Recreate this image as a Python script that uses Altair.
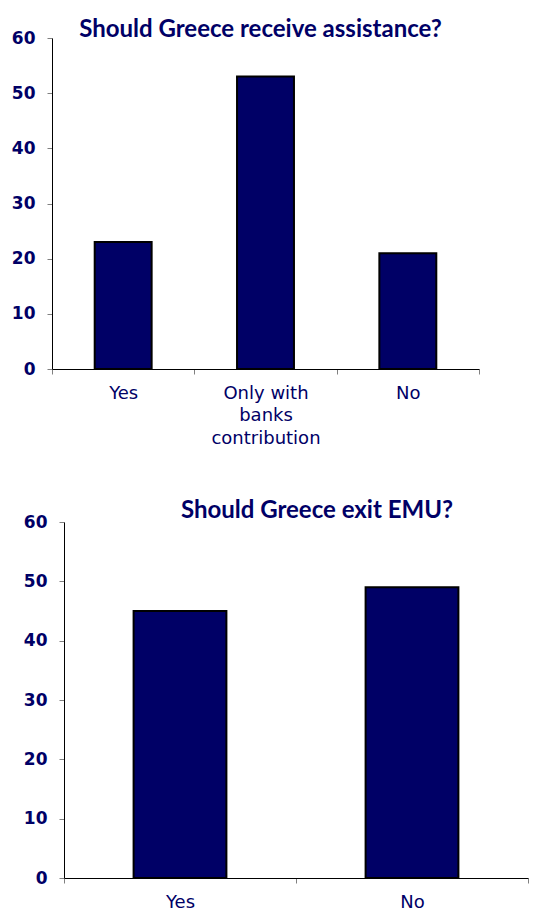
import altair as alt
import pandas as pd

# Data
q1_categories = ["Yes", "Only with banks contribution", "No"]
q1_values = [23, 53, 21]
q2_categories = ["Yes", "No"]
q2_values = [45, 49]
y_ticks = [0, 10, 20, 30, 40, 50, 60]

NAVY = "#000066"
LABEL_EXPR = ("datum.label == 'Only with banks contribution' ? "
              "['Only with', 'banks', 'contribution'] : datum.label")


def panel(cats, vals, title, width, height, dx, title_offset, shift, xfs):
    df = pd.DataFrame({"cat": cats, "val": vals})
    total_w = width + shift
    return (
        alt.Chart(df)
        .mark_bar(color=NAVY, stroke="black", strokeWidth=2,
                  width=alt.RelativeBandSize(0.4))
        .encode(
            x=alt.X("cat:N", sort=cats, title=None,
                    scale=alt.Scale(paddingInner=0, paddingOuter=0,
                                    range=[shift, total_w]),
                    axis=alt.Axis(labelAngle=0, tickBand="extent", labelExpr=LABEL_EXPR,
                                  labelFont="DejaVu Sans", labelFontSize=xfs,
                                  labelColor=NAVY, labelPadding=10, labelLineHeight=22.5,
                                  tickColor="#808080", tickSize=5, domainColor="black",
                                  labelBaseline="top")),
            y=alt.Y("val:Q", title=None, scale=alt.Scale(domain=[0, 60]),
                    axis=alt.Axis(values=y_ticks, labelFont="DejaVu Sans",
                                  labelFontSize=17, labelFontWeight="bold",
                                  labelColor=NAVY, labelPadding=12, tickColor="#808080",
                                  tickSize=5, domainColor="black", grid=False,
                                  offset=-shift, minExtent=44, maxExtent=44)),
        )
        .properties(
            width=total_w, height=height,
            title=alt.TitleParams(title, font="Lato", fontSize=24, fontWeight="bold",
                                  color=NAVY, anchor="middle", frame="group", dx=dx,
                                  offset=title_offset, baseline="alphabetic"),
        )
    )


top = panel(q1_categories, q1_values, "Should Greece receive assistance?",
            427, 331, -5, -32, 0, 18)
bottom = panel(q2_categories, q2_values, "Should Greece exit EMU?",
               464, 356, 27, -29, 12, 18)

chart = (
    alt.concat(top, bottom, columns=1, spacing=52)
    .properties(padding={"left": 0, "top": 10, "right": 0, "bottom": 0})
    .configure_view(stroke=None)
    .configure_axis(grid=False)
)

chart.save("out.html", embed_options={"renderer": "svg", "actions": False})
